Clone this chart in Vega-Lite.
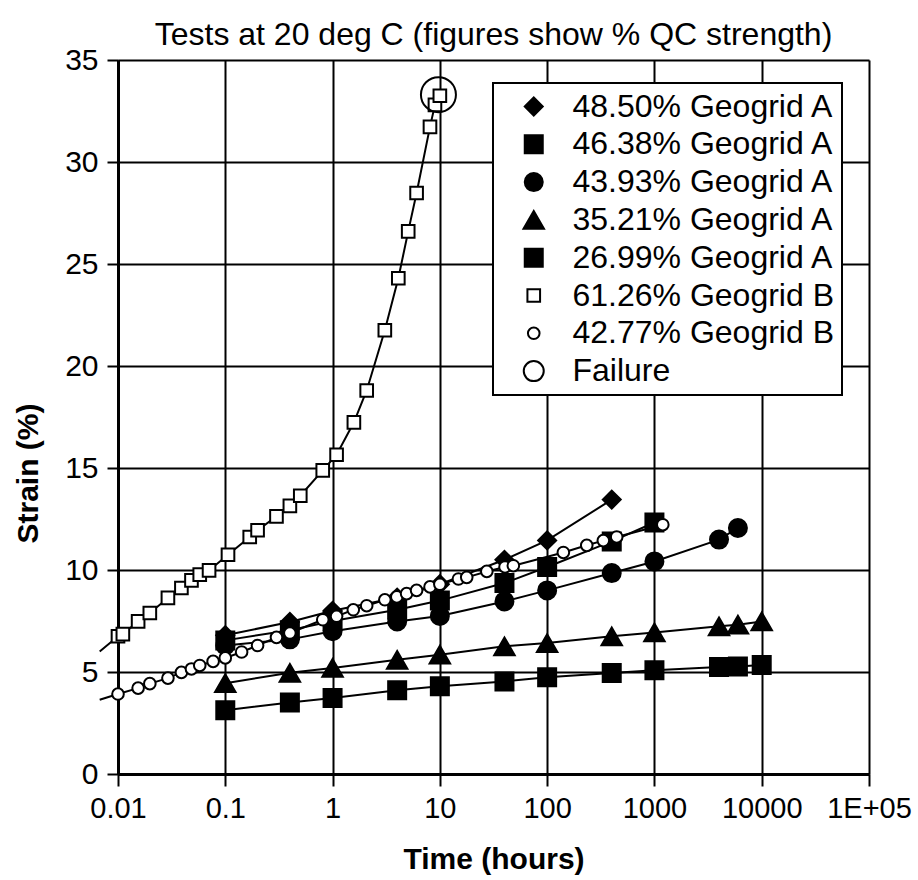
{
  "$schema": "https://vega.github.io/schema/vega-lite/v6.json",
  "width": 751,
  "height": 714,
  "autosize": {"type": "none"},
  "padding": {"left": 118, "top": 60, "right": 49, "bottom": 106},
  "background": "white",
  "title": {
    "text": "Tests at 20 deg C (figures show % QC strength)",
    "orient": "top",
    "fontSize": 32,
    "fontWeight": "normal",
    "color": "black",
    "frame": "group",
    "anchor": "middle",
    "baseline": "alphabetic",
    "offset": -32
  },
  "config": {
    "font": "Liberation Sans",
    "view": {"stroke": null},
    "legend": {
      "title": null,
      "orient": "none",
      "legendX": 375,
      "legendY": 23,
      "labelFontSize": 32,
      "labelColor": "black",
      "labelLimit": 400,
      "symbolStrokeWidth": 2,
      "symbolOpacity": 1,
      "strokeColor": "black",
      "strokeWidth": 2,
      "fillColor": "white",
      "padding": 7.5,
      "rowPadding": 5.8,
      "symbolOffset": 17.25,
      "labelOffset": 22.75
    }
  },
  "data": {
    "values": [
      {"s": "48.50% Geogrid A", "t": 0.1, "e": 6.8},
      {"s": "48.50% Geogrid A", "t": 0.4, "e": 7.45},
      {"s": "48.50% Geogrid A", "t": 1, "e": 8.0},
      {"s": "48.50% Geogrid A", "t": 4, "e": 8.65},
      {"s": "48.50% Geogrid A", "t": 10, "e": 9.3},
      {"s": "48.50% Geogrid A", "t": 40, "e": 10.5},
      {"s": "48.50% Geogrid A", "t": 100, "e": 11.45},
      {"s": "48.50% Geogrid A", "t": 400, "e": 13.45},
      {"s": "46.38% Geogrid A", "t": 0.1, "e": 6.55},
      {"s": "46.38% Geogrid A", "t": 0.4, "e": 7.05},
      {"s": "46.38% Geogrid A", "t": 1, "e": 7.5},
      {"s": "46.38% Geogrid A", "t": 4, "e": 8.05},
      {"s": "46.38% Geogrid A", "t": 10, "e": 8.5},
      {"s": "46.38% Geogrid A", "t": 40, "e": 9.36},
      {"s": "46.38% Geogrid A", "t": 100, "e": 10.15},
      {"s": "46.38% Geogrid A", "t": 400, "e": 11.4},
      {"s": "46.38% Geogrid A", "t": 1000, "e": 12.33},
      {"s": "43.93% Geogrid A", "t": 0.1, "e": 6.3},
      {"s": "43.93% Geogrid A", "t": 0.4, "e": 6.6},
      {"s": "43.93% Geogrid A", "t": 1, "e": 7.0},
      {"s": "43.93% Geogrid A", "t": 4, "e": 7.48},
      {"s": "43.93% Geogrid A", "t": 10, "e": 7.75},
      {"s": "43.93% Geogrid A", "t": 40, "e": 8.46},
      {"s": "43.93% Geogrid A", "t": 100, "e": 9.0},
      {"s": "43.93% Geogrid A", "t": 400, "e": 9.85},
      {"s": "43.93% Geogrid A", "t": 1000, "e": 10.42},
      {"s": "43.93% Geogrid A", "t": 4000, "e": 11.49},
      {"s": "43.93% Geogrid A", "t": 6000, "e": 12.06},
      {"s": "35.21% Geogrid A", "t": 0.1, "e": 4.45},
      {"s": "35.21% Geogrid A", "t": 0.4, "e": 4.96},
      {"s": "35.21% Geogrid A", "t": 1, "e": 5.2},
      {"s": "35.21% Geogrid A", "t": 4, "e": 5.6},
      {"s": "35.21% Geogrid A", "t": 10, "e": 5.85},
      {"s": "35.21% Geogrid A", "t": 40, "e": 6.26},
      {"s": "35.21% Geogrid A", "t": 100, "e": 6.42},
      {"s": "35.21% Geogrid A", "t": 400, "e": 6.75},
      {"s": "35.21% Geogrid A", "t": 1000, "e": 6.94},
      {"s": "35.21% Geogrid A", "t": 4000, "e": 7.24},
      {"s": "35.21% Geogrid A", "t": 6000, "e": 7.32},
      {"s": "35.21% Geogrid A", "t": 10000, "e": 7.48},
      {"s": "26.99% Geogrid A", "t": 0.1, "e": 3.12},
      {"s": "26.99% Geogrid A", "t": 0.4, "e": 3.51},
      {"s": "26.99% Geogrid A", "t": 1, "e": 3.72},
      {"s": "26.99% Geogrid A", "t": 4, "e": 4.1},
      {"s": "26.99% Geogrid A", "t": 10, "e": 4.3},
      {"s": "26.99% Geogrid A", "t": 40, "e": 4.54},
      {"s": "26.99% Geogrid A", "t": 100, "e": 4.74},
      {"s": "26.99% Geogrid A", "t": 400, "e": 4.95},
      {"s": "26.99% Geogrid A", "t": 1000, "e": 5.08},
      {"s": "26.99% Geogrid A", "t": 4000, "e": 5.24},
      {"s": "26.99% Geogrid A", "t": 6000, "e": 5.27},
      {"s": "26.99% Geogrid A", "t": 10000, "e": 5.34},
      {"s": "61.26% Geogrid B", "t": 0.00675, "e": 6.0},
      {"s": "61.26% Geogrid B", "t": 0.01, "e": 6.75},
      {"s": "61.26% Geogrid B", "t": 0.0111, "e": 6.86},
      {"s": "61.26% Geogrid B", "t": 0.0154, "e": 7.48},
      {"s": "61.26% Geogrid B", "t": 0.0198, "e": 7.89},
      {"s": "61.26% Geogrid B", "t": 0.0292, "e": 8.63},
      {"s": "61.26% Geogrid B", "t": 0.039, "e": 9.12},
      {"s": "61.26% Geogrid B", "t": 0.0484, "e": 9.49},
      {"s": "61.26% Geogrid B", "t": 0.0578, "e": 9.77},
      {"s": "61.26% Geogrid B", "t": 0.0706, "e": 9.98},
      {"s": "61.26% Geogrid B", "t": 0.106, "e": 10.75},
      {"s": "61.26% Geogrid B", "t": 0.169, "e": 11.62},
      {"s": "61.26% Geogrid B", "t": 0.2, "e": 11.95},
      {"s": "61.26% Geogrid B", "t": 0.3, "e": 12.63},
      {"s": "61.26% Geogrid B", "t": 0.4, "e": 13.14},
      {"s": "61.26% Geogrid B", "t": 0.5, "e": 13.64},
      {"s": "61.26% Geogrid B", "t": 0.81, "e": 14.88},
      {"s": "61.26% Geogrid B", "t": 1.09, "e": 15.65},
      {"s": "61.26% Geogrid B", "t": 1.58, "e": 17.24},
      {"s": "61.26% Geogrid B", "t": 2.08, "e": 18.8},
      {"s": "61.26% Geogrid B", "t": 3.07, "e": 21.75},
      {"s": "61.26% Geogrid B", "t": 4.1, "e": 24.3},
      {"s": "61.26% Geogrid B", "t": 5.07, "e": 26.6},
      {"s": "61.26% Geogrid B", "t": 6.07, "e": 28.48},
      {"s": "61.26% Geogrid B", "t": 8.09, "e": 31.72},
      {"s": "61.26% Geogrid B", "t": 9.0, "e": 32.8},
      {"s": "61.26% Geogrid B", "t": 10, "e": 33.25},
      {"s": "42.77% Geogrid B", "t": 0.00675, "e": 3.64},
      {"s": "42.77% Geogrid B", "t": 0.01, "e": 3.92},
      {"s": "42.77% Geogrid B", "t": 0.0154, "e": 4.21},
      {"s": "42.77% Geogrid B", "t": 0.0198, "e": 4.43},
      {"s": "42.77% Geogrid B", "t": 0.0292, "e": 4.7},
      {"s": "42.77% Geogrid B", "t": 0.039, "e": 4.98},
      {"s": "42.77% Geogrid B", "t": 0.0484, "e": 5.15},
      {"s": "42.77% Geogrid B", "t": 0.0578, "e": 5.32},
      {"s": "42.77% Geogrid B", "t": 0.077, "e": 5.52},
      {"s": "42.77% Geogrid B", "t": 0.1, "e": 5.69},
      {"s": "42.77% Geogrid B", "t": 0.142, "e": 5.98},
      {"s": "42.77% Geogrid B", "t": 0.2, "e": 6.3},
      {"s": "42.77% Geogrid B", "t": 0.3, "e": 6.7},
      {"s": "42.77% Geogrid B", "t": 0.4, "e": 6.91},
      {"s": "42.77% Geogrid B", "t": 0.81, "e": 7.56},
      {"s": "42.77% Geogrid B", "t": 1.09, "e": 7.73},
      {"s": "42.77% Geogrid B", "t": 1.56, "e": 8.05},
      {"s": "42.77% Geogrid B", "t": 2.08, "e": 8.25},
      {"s": "42.77% Geogrid B", "t": 3.07, "e": 8.54},
      {"s": "42.77% Geogrid B", "t": 3.97, "e": 8.68},
      {"s": "42.77% Geogrid B", "t": 4.9, "e": 8.84},
      {"s": "42.77% Geogrid B", "t": 6.07, "e": 9.0},
      {"s": "42.77% Geogrid B", "t": 8.1, "e": 9.17},
      {"s": "42.77% Geogrid B", "t": 10, "e": 9.3},
      {"s": "42.77% Geogrid B", "t": 14.9, "e": 9.56},
      {"s": "42.77% Geogrid B", "t": 17.8, "e": 9.64},
      {"s": "42.77% Geogrid B", "t": 27.4, "e": 9.93},
      {"s": "42.77% Geogrid B", "t": 40.5, "e": 10.15},
      {"s": "42.77% Geogrid B", "t": 48.4, "e": 10.21},
      {"s": "42.77% Geogrid B", "t": 141.6, "e": 10.86},
      {"s": "42.77% Geogrid B", "t": 234, "e": 11.21},
      {"s": "42.77% Geogrid B", "t": 334, "e": 11.44},
      {"s": "42.77% Geogrid B", "t": 445, "e": 11.62},
      {"s": "42.77% Geogrid B", "t": 1197, "e": 12.22},
      {"s": "Failure", "t": 9.7, "e": 33.3}
    ]
  },
  "encoding": {
    "x": {
      "field": "t",
      "type": "quantitative",
      "scale": {"type": "log", "domain": [0.01, 100000], "nice": false},
      "axis": {
        "title": "Time (hours)",
        "values": [0.01, 0.1, 1, 10, 100, 1000, 10000, 100000],
        "labelExpr": "datum.value >= 99999 ? '1E+05' : toString(datum.value)",
        "grid": true,
        "gridColor": "black",
        "gridWidth": 2,
        "gridOpacity": 1,
        "domainColor": "black",
        "domainWidth": 3,
        "tickColor": "black",
        "tickWidth": 2,
        "tickSize": 12,
        "labelFontSize": 29,
        "labelColor": "black",
        "labelPadding": 8,
        "labelFlush": false,
        "labelOverlap": false,
        "titleFontSize": 30,
        "titleFontWeight": "bold",
        "titleColor": "black",
        "titlePadding": 21
      }
    },
    "y": {
      "field": "e",
      "type": "quantitative",
      "scale": {"domain": [0, 35], "nice": false, "zero": true},
      "axis": {
        "title": "Strain (%)",
        "values": [0, 5, 10, 15, 20, 25, 30, 35],
        "grid": true,
        "gridColor": "black",
        "gridWidth": 2,
        "gridOpacity": 1,
        "domainColor": "black",
        "domainWidth": 3,
        "tickColor": "black",
        "tickWidth": 2,
        "tickSize": 11,
        "labelFontSize": 30,
        "labelColor": "black",
        "labelPadding": 9,
        "labelOverlap": false,
        "titleFontSize": 30,
        "titleFontWeight": "bold",
        "titleColor": "black",
        "titleAngle": -90,
        "titleX": -90,
        "titleY": 413,
        "titleAlign": "center",
        "titleBaseline": "middle"
      }
    }
  },
  "layer": [
    {
      "transform": [{"filter": "datum.s !== 'Failure'"}],
      "mark": {"type": "line", "stroke": "black", "strokeWidth": 2, "clip": false},
      "encoding": {
        "detail": {"field": "s", "type": "nominal"}
      }
    },
    {
      "transform": [{"filter": "datum.t >= 0.01 && datum.s !== 'Failure'"}],
      "mark": {"type": "point", "strokeWidth": 2, "opacity": 1, "fillOpacity": 1, "strokeOpacity": 1},
      "encoding": {
        "shape": {
          "field": "s",
          "type": "nominal",
          "scale": {
            "domain": ["48.50% Geogrid A", "46.38% Geogrid A", "43.93% Geogrid A", "35.21% Geogrid A", "26.99% Geogrid A", "61.26% Geogrid B", "42.77% Geogrid B", "Failure"],
            "range": ["diamond", "square", "circle", "triangle-up", "square", "square", "circle", "circle"]
          }
        },
        "fill": {
          "field": "s",
          "type": "nominal",
          "scale": {
            "domain": ["48.50% Geogrid A", "46.38% Geogrid A", "43.93% Geogrid A", "35.21% Geogrid A", "26.99% Geogrid A", "61.26% Geogrid B", "42.77% Geogrid B", "Failure"],
            "range": ["black", "black", "black", "black", "black", "white", "white", "white"]
          }
        },
        "stroke": {
          "field": "s",
          "type": "nominal",
          "scale": {
            "domain": ["48.50% Geogrid A", "46.38% Geogrid A", "43.93% Geogrid A", "35.21% Geogrid A", "26.99% Geogrid A", "61.26% Geogrid B", "42.77% Geogrid B", "Failure"],
            "range": ["black", "black", "black", "black", "black", "black", "black", "black"]
          }
        },
        "size": {
          "field": "s",
          "type": "nominal",
          "scale": {
            "type": "ordinal",
            "domain": ["48.50% Geogrid A", "46.38% Geogrid A", "43.93% Geogrid A", "35.21% Geogrid A", "26.99% Geogrid A", "61.26% Geogrid B", "42.77% Geogrid B", "Failure"],
            "range": [324, 324, 324, 420, 324, 160, 135, 400]
          }
        }
      }
    },
    {
      "transform": [{"filter": "datum.s === 'Failure'"}],
      "mark": {"type": "point", "shape": "circle", "size": 1225, "stroke": "black", "strokeWidth": 2, "fill": "transparent", "opacity": 1, "strokeOpacity": 1}
    }
  ]
}
